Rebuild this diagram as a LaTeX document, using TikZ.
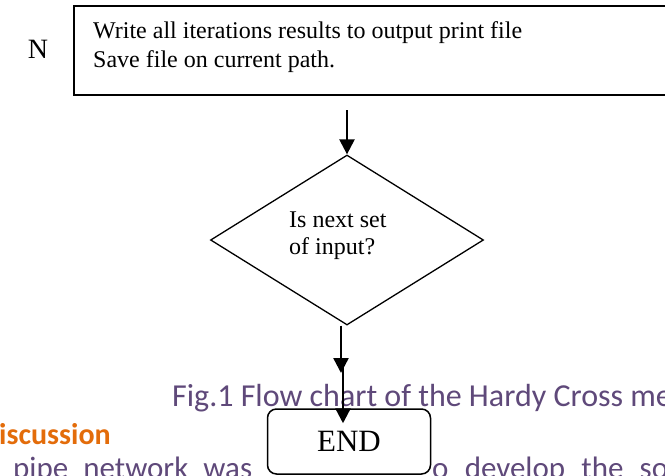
\documentclass[tikz,border=0pt]{standalone}
\usepackage{fontspec}
\setmainfont{Liberation Serif}
\newfontfamily\calibri{Carlito}
\usetikzlibrary{shapes.geometric,arrows.meta}
\definecolor{capcolor}{RGB}{95,73,122}
\definecolor{headcolor}{RGB}{227,108,10}
\begin{document}
\begin{tikzpicture}[x=1pt,y=-1pt]
\tikzstyle{every node}+=[inner sep=0pt]
\tikzstyle{flowarrow}=[black,line width=2.4pt,-{Triangle[length=15pt,width=15pt]}]
\tikzstyle{boxtext}=[anchor=base west,font=\fontsize{24}{26}\selectfont]
\tikzstyle{captext}=[anchor=base west,text=capcolor,font=\calibri\fontsize{31}{31}\selectfont]
\useasboundingbox (0,0) rectangle (665,475);
\clip (0,0) rectangle (665,475);
\node [anchor=base] (n) at (38,58) {\fontsize{28}{28}\selectfont N};
\node [draw,line width=2pt,minimum width=600pt,minimum height=89pt,anchor=north west] (outbox) at (73,5) {};
\node [boxtext] (outline1) at (93,38) {Write all iterations results to output print file};
\node [boxtext] (outline2) at (93,67) {Save file on current path.};
\node [draw,diamond,line width=1.3pt,aspect=1.6,minimum width=273pt,minimum height=170pt] (ask) at (347,240) {};
\node [boxtext] (askline1) at (289,227) {Is next set};
\node [boxtext] (askline2) at (289,254) {of input?};
\node [captext,font=\calibri\fontsize{32}{32}\selectfont] (caption) at (172,406) {Fig.1 Flow chart of the Hardy Cross me};
\node [anchor=base west,text=headcolor,font=\calibri\bfseries\fontsize{30}{30}\selectfont] (heading) at (-1,444) {iscussion};
\node [captext] (body1) at (13,478) {\makebox[239pt][s]{pipe network was}};
\node [captext] (body2) at (432,478) {\makebox[236pt][s]{o develop the so}};
\node [draw,rounded corners=9pt,line width=1.5pt,fill=white,minimum width=163pt,minimum height=65pt] (endbox) at (349,441.5) {\fontsize{31}{31}\selectfont END};
\coordinate (arrowend) at (341,373);
\coordinate (arrowstart) at (343,360);
\draw [flowarrow] ([yshift=-14pt]outbox.south -| ask.north) -- (ask.north);
\draw [flowarrow] (ask.south -| arrowend) -- (arrowend);
\draw [flowarrow] (arrowstart) -- ([yshift=-15pt]endbox.north -| arrowstart);
\end{tikzpicture}
\end{document}
